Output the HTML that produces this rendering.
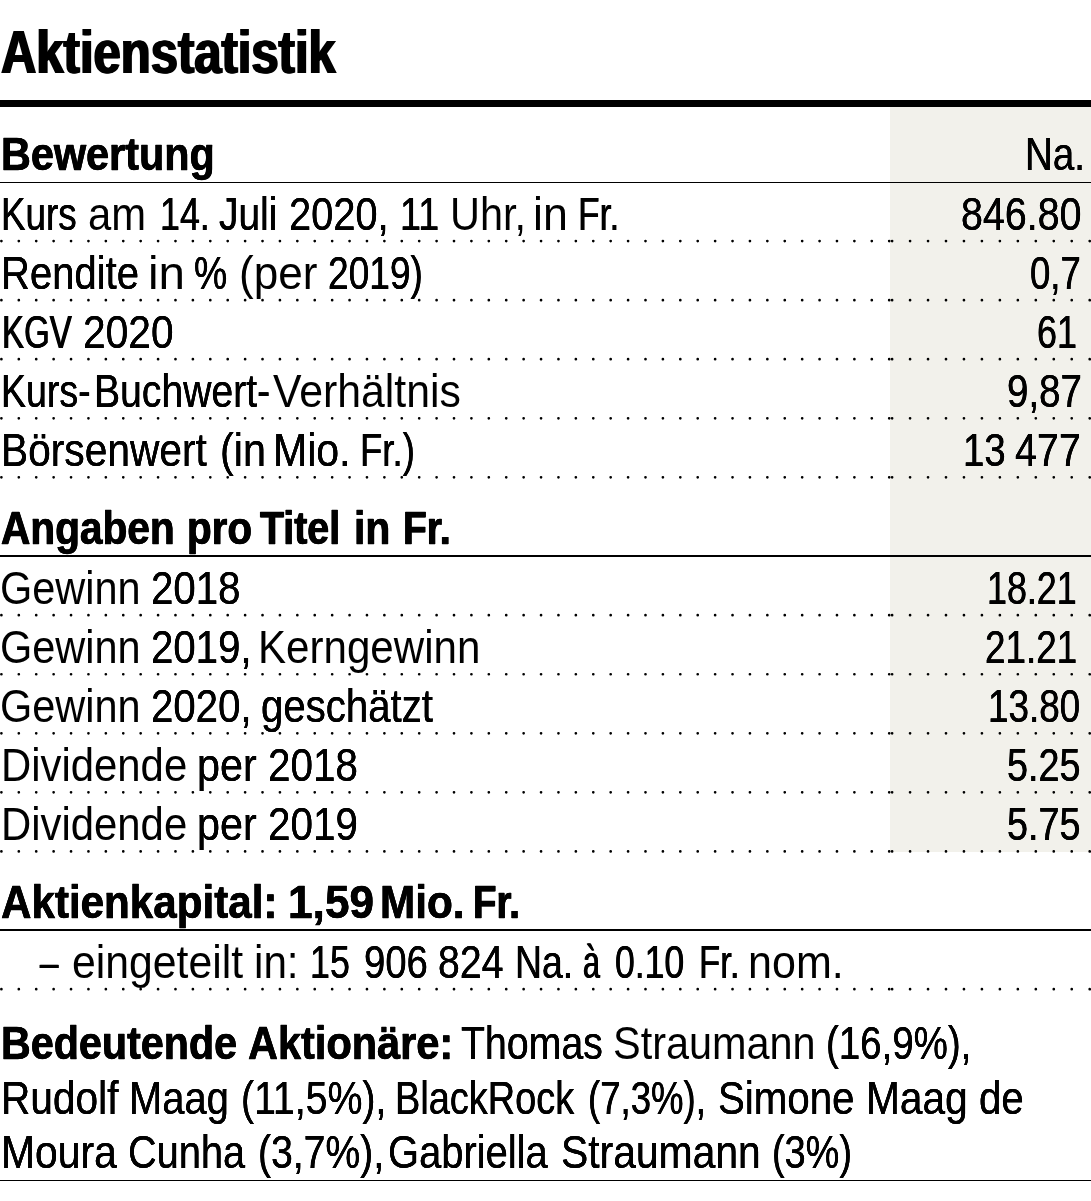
<!DOCTYPE html>
<html lang="de"><head><meta charset="utf-8"><title>Aktienstatistik</title>
<style>
html,body{margin:0;padding:0;background:#fff;}
body{width:1091px;height:1201px;position:relative;overflow:hidden;font-family:"Liberation Sans",sans-serif;color:#000;}
.l{position:absolute;left:0;top:0;margin:0;font-weight:400;font-size:46.5px;line-height:1;}
.l span{position:absolute;white-space:nowrap;line-height:1;transform-origin:0 0;font-weight:400;}
.l span.b{font-weight:700;}
h2 span.b,div.l span.b{-webkit-text-stroke:0.4px #000;}
.shade{position:absolute;left:890px;top:106px;width:201px;height:745.9px;background:#f2f1eb;}
.rule{position:absolute;left:0;width:1091px;background:#000;}
svg{position:absolute;left:0;top:0;}
</style></head><body>
<div class="shade"></div>
<div class="rule" style="top:100px;height:6.9px"></div>
<div class="rule" style="top:181.55px;height:1.5px"></div>
<div class="rule" style="top:555.45px;height:1.5px"></div>
<div class="rule" style="top:929.35px;height:1.5px"></div>
<div class="rule" style="top:1179.55px;height:1.5px"></div>
<svg width="1091" height="1201" viewBox="0 0 1091 1201" fill="none" stroke="#000" stroke-width="2.7" stroke-linecap="round">
<line x1="1.40" y1="241.10" x2="889.70" y2="241.10" stroke-dasharray="0.01 17.3978"/>
<line x1="892.10" y1="241.10" x2="1090.20" y2="241.10" stroke-dasharray="0.01 17.9536"/>
<line x1="1.40" y1="300.15" x2="889.70" y2="300.15" stroke-dasharray="0.01 17.3978"/>
<line x1="892.10" y1="300.15" x2="1090.20" y2="300.15" stroke-dasharray="0.01 17.9536"/>
<line x1="1.40" y1="359.20" x2="889.70" y2="359.20" stroke-dasharray="0.01 17.3978"/>
<line x1="892.10" y1="359.20" x2="1090.20" y2="359.20" stroke-dasharray="0.01 17.9536"/>
<line x1="1.40" y1="418.30" x2="889.70" y2="418.30" stroke-dasharray="0.01 17.3978"/>
<line x1="892.10" y1="418.30" x2="1090.20" y2="418.30" stroke-dasharray="0.01 17.9536"/>
<line x1="1.40" y1="477.35" x2="889.70" y2="477.35" stroke-dasharray="0.01 17.3978"/>
<line x1="892.10" y1="477.35" x2="1090.20" y2="477.35" stroke-dasharray="0.01 17.9536"/>
<line x1="1.40" y1="615.20" x2="889.70" y2="615.20" stroke-dasharray="0.01 17.3978"/>
<line x1="892.10" y1="615.20" x2="1090.20" y2="615.20" stroke-dasharray="0.01 17.9536"/>
<line x1="1.40" y1="674.25" x2="889.70" y2="674.25" stroke-dasharray="0.01 17.3978"/>
<line x1="892.10" y1="674.25" x2="1090.20" y2="674.25" stroke-dasharray="0.01 17.9536"/>
<line x1="1.40" y1="733.30" x2="889.70" y2="733.30" stroke-dasharray="0.01 17.3978"/>
<line x1="892.10" y1="733.30" x2="1090.20" y2="733.30" stroke-dasharray="0.01 17.9536"/>
<line x1="1.40" y1="792.35" x2="889.70" y2="792.35" stroke-dasharray="0.01 17.3978"/>
<line x1="892.10" y1="792.35" x2="1090.20" y2="792.35" stroke-dasharray="0.01 17.9536"/>
<line x1="1.40" y1="851.40" x2="889.70" y2="851.40" stroke-dasharray="0.01 17.3978"/>
<line x1="892.10" y1="851.40" x2="1090.20" y2="851.40" stroke-dasharray="0.01 17.9536"/>
<line x1="1.40" y1="989.20" x2="889.70" y2="989.20" stroke-dasharray="0.01 17.3978"/>
<line x1="892.10" y1="989.20" x2="1090.20" y2="989.20" stroke-dasharray="0.01 17.9536"/>
</svg>
<h1 class="l"><span class="b" style="font-size:62px;text-shadow:1.29px 0 0 #000,-1.29px 0 0 #000;left:0.83px;top:20.50px;transform:scaleX(0.7899)">Aktienstatistik</span></h1>
<h2 class="l"><span class="b" style="text-shadow:0.38px 0 0 #000,-0.38px 0 0 #000;left:0.85px;top:130.50px;transform:scaleX(0.8898)">Bewertung</span></h2>
<div class="l"><span style="text-shadow:0.18px 0 0 #000,-0.18px 0 0 #000;left:1024.67px;top:130.50px;transform:scaleX(0.8282)">Na.</span></div>
<div class="l"><span style="text-shadow:0.28px 0 0 #000,-0.28px 0 0 #000;left:1.05px;top:190.70px;transform:scaleX(0.7920)">Kurs</span> <span style="left:88.40px;top:190.70px;transform:scaleX(0.8988)">am</span> <span style="text-shadow:0.35px 0 0 #000,-0.35px 0 0 #000;left:159.66px;top:190.70px;transform:scaleX(0.7704)">14.</span> <span style="text-shadow:0.16px 0 0 #000,-0.16px 0 0 #000;left:219.43px;top:190.70px;transform:scaleX(0.8368)">Juli</span> <span style="text-shadow:0.11px 0 0 #000,-0.11px 0 0 #000;left:288.88px;top:190.70px;transform:scaleX(0.8567)">2020,</span> <span style="text-shadow:0.23px 0 0 #000,-0.23px 0 0 #000;left:400.45px;top:190.70px;transform:scaleX(0.8116)">11</span> <span style="left:450.33px;top:190.70px;transform:scaleX(0.8907)">Uhr,</span> <span style="left:533.11px;top:190.70px;transform:scaleX(0.9627)">in</span> <span style="text-shadow:0.37px 0 0 #000,-0.37px 0 0 #000;left:578.20px;top:190.70px;transform:scaleX(0.7614)">Fr.</span></div>
<div class="l"><span style="text-shadow:0.13px 0 0 #000,-0.13px 0 0 #000;left:961.12px;top:190.70px;transform:scaleX(0.8473)">846.80</span></div>
<div class="l"><span style="text-shadow:0.10px 0 0 #000,-0.10px 0 0 #000;left:0.80px;top:249.70px;transform:scaleX(0.8611)">Rendite</span> <span style="left:147.63px;top:249.70px;transform:scaleX(1.0221)">in</span> <span style="text-shadow:0.25px 0 0 #000,-0.25px 0 0 #000;left:194.40px;top:249.70px;transform:scaleX(0.8025)">%</span> <span style="left:238.80px;top:249.70px;transform:scaleX(0.9475)">(per</span> <span style="text-shadow:0.27px 0 0 #000,-0.27px 0 0 #000;left:327.92px;top:249.70px;transform:scaleX(0.7976)">2019)</span></div>
<div class="l"><span style="text-shadow:0.30px 0 0 #000,-0.30px 0 0 #000;left:1030.45px;top:249.70px;transform:scaleX(0.7855)">0,7</span></div>
<div class="l"><span style="text-shadow:0.55px 0 0 #000,-0.55px 0 0 #000;left:1.56px;top:308.75px;transform:scaleX(0.7105)">KGV</span> <span style="text-shadow:0.06px 0 0 #000,-0.06px 0 0 #000;left:83.30px;top:308.75px;transform:scaleX(0.8758)">2020</span></div>
<div class="l"><span style="text-shadow:0.34px 0 0 #000,-0.34px 0 0 #000;left:1036.72px;top:308.75px;transform:scaleX(0.7726)">61</span></div>
<div class="l"><span style="text-shadow:0.24px 0 0 #000,-0.24px 0 0 #000;left:0.67px;top:367.80px;transform:scaleX(0.8068)">Kurs-</span><span style="text-shadow:0.15px 0 0 #000,-0.15px 0 0 #000;left:94.30px;top:367.80px;transform:scaleX(0.8414)">Buchwert-</span><span style="left:273.30px;top:367.80px;transform:scaleX(0.9199)">Verhältnis</span></div>
<div class="l"><span style="text-shadow:0.18px 0 0 #000,-0.18px 0 0 #000;left:1006.50px;top:367.80px;transform:scaleX(0.8275)">9,87</span></div>
<div class="l"><span style="text-shadow:0.06px 0 0 #000,-0.06px 0 0 #000;left:0.73px;top:426.80px;transform:scaleX(0.8753)">Börsenwert</span> <span style="text-shadow:0.03px 0 0 #000,-0.03px 0 0 #000;left:219.96px;top:426.80px;transform:scaleX(0.8873)">(in</span> <span style="text-shadow:0.05px 0 0 #000,-0.05px 0 0 #000;left:273.39px;top:426.80px;transform:scaleX(0.8825)">Mio.</span> <span style="text-shadow:0.30px 0 0 #000,-0.30px 0 0 #000;left:359.57px;top:426.80px;transform:scaleX(0.7866)">Fr.)</span></div>
<div class="l"><span style="text-shadow:0.19px 0 0 #000,-0.19px 0 0 #000;left:963.18px;top:426.80px;transform:scaleX(0.8256)">13</span> <span style="text-shadow:0.13px 0 0 #000,-0.13px 0 0 #000;left:1014.76px;top:426.80px;transform:scaleX(0.8496)">477</span></div>
<h2 class="l"><span class="b" style="text-shadow:0.45px 0 0 #000,-0.45px 0 0 #000;left:1.09px;top:504.70px;transform:scaleX(0.8734)">Angaben</span> <span class="b" style="text-shadow:0.47px 0 0 #000,-0.47px 0 0 #000;left:187.28px;top:504.70px;transform:scaleX(0.8686)">pro</span> <span class="b" style="text-shadow:0.57px 0 0 #000,-0.57px 0 0 #000;left:259.96px;top:504.70px;transform:scaleX(0.8460)">Titel</span> <span class="b" style="text-shadow:0.42px 0 0 #000,-0.42px 0 0 #000;left:354.21px;top:504.70px;transform:scaleX(0.8799)">in</span> <span class="b" style="text-shadow:0.61px 0 0 #000,-0.61px 0 0 #000;left:402.56px;top:504.70px;transform:scaleX(0.8392)">Fr.</span></h2>
<div class="l"><span style="left:0.32px;top:564.60px;transform:scaleX(0.8913)">Gewinn</span> <span style="text-shadow:0.09px 0 0 #000,-0.09px 0 0 #000;left:151.04px;top:564.60px;transform:scaleX(0.8651)">2018</span></div>
<div class="l"><span style="text-shadow:0.34px 0 0 #000,-0.34px 0 0 #000;left:986.95px;top:564.60px;transform:scaleX(0.7710)">18.21</span></div>
<div class="l"><span style="left:0.32px;top:623.60px;transform:scaleX(0.8913)">Gewinn</span> <span style="text-shadow:0.09px 0 0 #000,-0.09px 0 0 #000;left:151.05px;top:623.60px;transform:scaleX(0.8642)">2019,</span> <span style="left:258.48px;top:623.60px;transform:scaleX(0.9052)">Kerngewinn</span></div>
<div class="l"><span style="text-shadow:0.28px 0 0 #000,-0.28px 0 0 #000;left:984.64px;top:623.60px;transform:scaleX(0.7916)">21.21</span></div>
<div class="l"><span style="left:0.32px;top:682.70px;transform:scaleX(0.8913)">Gewinn</span> <span style="text-shadow:0.09px 0 0 #000,-0.09px 0 0 #000;left:151.05px;top:682.70px;transform:scaleX(0.8642)">2020,</span> <span style="text-shadow:0.09px 0 0 #000,-0.09px 0 0 #000;left:260.91px;top:682.70px;transform:scaleX(0.8639)">geschätzt</span></div>
<div class="l"><span style="text-shadow:0.28px 0 0 #000,-0.28px 0 0 #000;left:988.35px;top:682.70px;transform:scaleX(0.7916)">13.80</span></div>
<div class="l"><span style="left:0.50px;top:741.70px;transform:scaleX(0.9003)">Dividende</span> <span style="text-shadow:0.03px 0 0 #000,-0.03px 0 0 #000;left:197.36px;top:741.70px;transform:scaleX(0.8890)">per</span> <span style="text-shadow:0.08px 0 0 #000,-0.08px 0 0 #000;left:267.63px;top:741.70px;transform:scaleX(0.8693)">2018</span></div>
<div class="l"><span style="text-shadow:0.23px 0 0 #000,-0.23px 0 0 #000;left:1007.37px;top:741.70px;transform:scaleX(0.8116)">5.25</span></div>
<div class="l"><span style="left:0.50px;top:800.70px;transform:scaleX(0.9003)">Dividende</span> <span style="text-shadow:0.03px 0 0 #000,-0.03px 0 0 #000;left:197.36px;top:800.70px;transform:scaleX(0.8890)">per</span> <span style="text-shadow:0.08px 0 0 #000,-0.08px 0 0 #000;left:267.63px;top:800.70px;transform:scaleX(0.8693)">2019</span></div>
<div class="l"><span style="text-shadow:0.23px 0 0 #000,-0.23px 0 0 #000;left:1007.37px;top:800.70px;transform:scaleX(0.8116)">5.75</span></div>
<h2 class="l"><span class="b" style="text-shadow:0.31px 0 0 #000,-0.31px 0 0 #000;left:1.26px;top:878.70px;transform:scaleX(0.9066)">Aktienkapital:</span> <span class="b" style="text-shadow:0.14px 0 0 #000,-0.14px 0 0 #000;left:287.72px;top:878.70px;transform:scaleX(0.9511)">1,59</span> <span class="b" style="text-shadow:0.30px 0 0 #000,-0.30px 0 0 #000;left:380.43px;top:878.70px;transform:scaleX(0.9084)">Mio.</span> <span class="b" style="text-shadow:0.67px 0 0 #000,-0.67px 0 0 #000;left:473.24px;top:878.70px;transform:scaleX(0.8258)">Fr.</span></h2>
<div class="l"><span style="text-shadow:0.55px 0 0 #000,-0.55px 0 0 #000;left:40.39px;top:938.80px;transform:scaleX(0.7083)">–</span> <span style="left:72.18px;top:938.80px;transform:scaleX(0.9189)">eingeteilt</span> <span style="left:253.98px;top:938.80px;transform:scaleX(0.9078)">in:</span> <span style="text-shadow:0.35px 0 0 #000,-0.35px 0 0 #000;left:309.66px;top:938.80px;transform:scaleX(0.7696)">15</span> <span style="text-shadow:0.19px 0 0 #000,-0.19px 0 0 #000;left:363.51px;top:938.80px;transform:scaleX(0.8231)">906</span> <span style="text-shadow:0.14px 0 0 #000,-0.14px 0 0 #000;left:438.43px;top:938.80px;transform:scaleX(0.8440)">824</span> <span style="text-shadow:0.25px 0 0 #000,-0.25px 0 0 #000;left:515.49px;top:938.80px;transform:scaleX(0.8038)">Na.</span> <span style="text-shadow:0.78px 0 0 #000,-0.78px 0 0 #000;left:582.56px;top:938.80px;transform:scaleX(0.6514)">à</span> <span style="text-shadow:0.37px 0 0 #000,-0.37px 0 0 #000;left:614.51px;top:938.80px;transform:scaleX(0.7642)">0.10</span> <span style="text-shadow:0.42px 0 0 #000,-0.42px 0 0 #000;left:698.77px;top:938.80px;transform:scaleX(0.7475)">Fr.</span> <span style="left:747.92px;top:938.80px;transform:scaleX(0.9258)">nom.</span></div>
<div class="l"><span class="b" style="text-shadow:0.39px 0 0 #000,-0.39px 0 0 #000;left:0.86px;top:1020.30px;transform:scaleX(0.8871)">Bedeutende</span> <span class="b" style="text-shadow:0.37px 0 0 #000,-0.37px 0 0 #000;left:247.92px;top:1020.30px;transform:scaleX(0.8923)">Aktionäre:</span> <span style="text-shadow:0.14px 0 0 #000,-0.14px 0 0 #000;left:460.77px;top:1020.30px;transform:scaleX(0.8446)">Thomas</span> <span style="left:613.22px;top:1020.30px;transform:scaleX(0.8908)">Straumann</span> <span style="text-shadow:0.18px 0 0 #000,-0.18px 0 0 #000;left:826.20px;top:1020.30px;transform:scaleX(0.8273)">(16,9%),</span></div>
<div class="l"><span style="text-shadow:0.07px 0 0 #000,-0.07px 0 0 #000;left:0.74px;top:1074.80px;transform:scaleX(0.8737)">Rudolf</span> <span style="text-shadow:0.10px 0 0 #000,-0.10px 0 0 #000;left:129.21px;top:1074.80px;transform:scaleX(0.8585)">Maag</span> <span style="text-shadow:0.14px 0 0 #000,-0.14px 0 0 #000;left:241.13px;top:1074.80px;transform:scaleX(0.8437)">(11,5%),</span> <span style="text-shadow:0.21px 0 0 #000,-0.21px 0 0 #000;left:395.03px;top:1074.80px;transform:scaleX(0.8158)">BlackRock</span> <span style="text-shadow:0.30px 0 0 #000,-0.30px 0 0 #000;left:587.96px;top:1074.80px;transform:scaleX(0.7866)">(7,3%),</span> <span style="text-shadow:0.09px 0 0 #000,-0.09px 0 0 #000;left:718.34px;top:1074.80px;transform:scaleX(0.8657)">Simone</span> <span style="text-shadow:0.06px 0 0 #000,-0.06px 0 0 #000;left:865.73px;top:1074.80px;transform:scaleX(0.8744)">Maag</span> <span style="text-shadow:0.09px 0 0 #000,-0.09px 0 0 #000;left:978.51px;top:1074.80px;transform:scaleX(0.8647)">de</span></div>
<div class="l"><span style="text-shadow:0.05px 0 0 #000,-0.05px 0 0 #000;left:0.71px;top:1128.70px;transform:scaleX(0.8787)">Moura</span> <span style="text-shadow:0.11px 0 0 #000,-0.11px 0 0 #000;left:127.69px;top:1128.70px;transform:scaleX(0.8546)">Cunha</span> <span style="text-shadow:0.15px 0 0 #000,-0.15px 0 0 #000;left:257.74px;top:1128.70px;transform:scaleX(0.8416)">(3,7%),</span> <span style="text-shadow:0.10px 0 0 #000,-0.10px 0 0 #000;left:388.37px;top:1128.70px;transform:scaleX(0.8583)">Gabriella</span> <span style="text-shadow:0.06px 0 0 #000,-0.06px 0 0 #000;left:560.99px;top:1128.70px;transform:scaleX(0.8783)">Straumann</span> <span style="text-shadow:0.22px 0 0 #000,-0.22px 0 0 #000;left:771.85px;top:1128.70px;transform:scaleX(0.8149)">(3%)</span></div>
</body></html>
